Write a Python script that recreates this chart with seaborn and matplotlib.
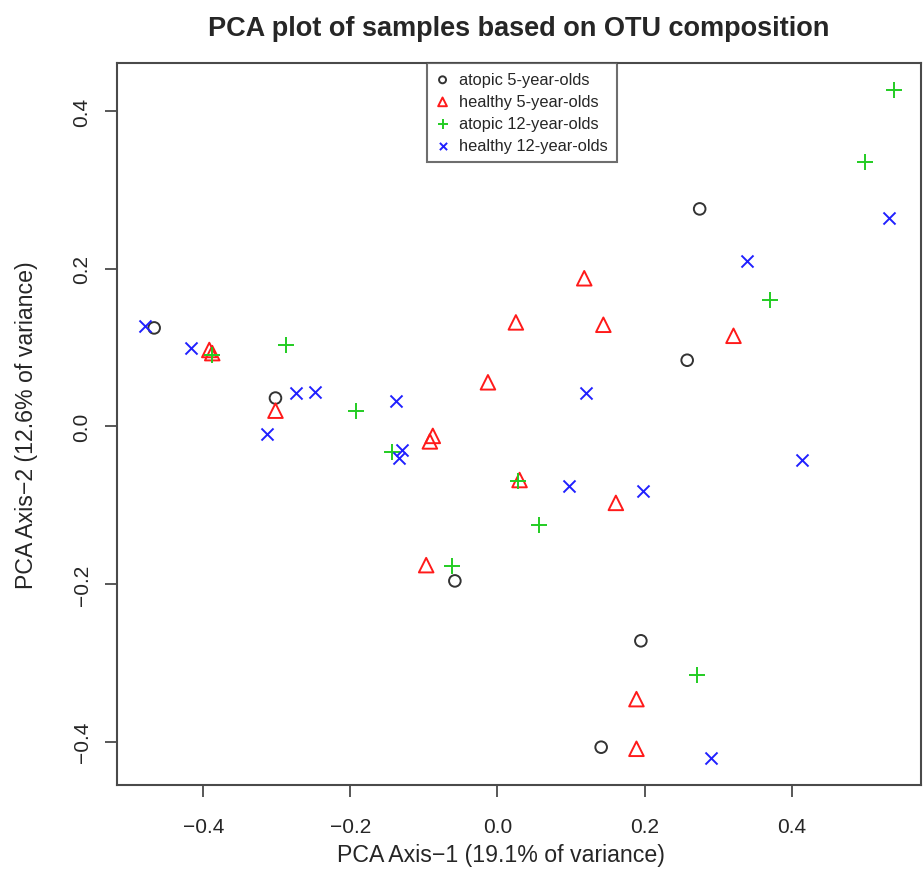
import matplotlib
matplotlib.use("Agg")
import matplotlib.pyplot as plt
import seaborn as sns
import pandas as pd

# values
atopic5_x = [-0.467, -0.302, -0.058, 0.275, 0.258, 0.195, 0.141]
atopic5_y = [0.125, 0.036, -0.196, 0.276, 0.084, -0.272, -0.407]

healthy5_x = [-0.392, -0.388, -0.302, -0.013, 0.025, -0.088, -0.092, -0.097,
              0.030, 0.118, 0.144, 0.321, 0.161, 0.189, 0.189]
healthy5_y = [0.097, 0.093, 0.020, 0.056, 0.132, -0.012, -0.019, -0.176,
              -0.068, 0.188, 0.129, 0.115, -0.097, -0.346, -0.409]

atopic12_x = [-0.388, -0.287, -0.193, -0.144, -0.062, 0.028, 0.056, 0.272,
              0.370, 0.500, 0.539]
atopic12_y = [0.090, 0.103, 0.020, -0.032, -0.177, -0.069, -0.125, -0.316,
              0.161, 0.336, 0.427]

healthy12_x = [-0.479, -0.417, -0.314, -0.274, -0.248, -0.138, -0.130, -0.134,
               0.097, 0.198, 0.120, 0.340, 0.414, 0.532, 0.290]
healthy12_y = [0.127, 0.100, -0.010, 0.043, 0.044, 0.032, -0.030, -0.040,
               -0.075, -0.082, 0.043, 0.210, -0.042, 0.264, -0.421]

groups = ["atopic 5-year-olds", "healthy 5-year-olds",
          "atopic 12-year-olds", "healthy 12-year-olds"]

sns.set_style("white")
plt.rcParams["font.family"] = ["Liberation Sans", "DejaVu Sans"]

fig = plt.figure(figsize=(9.23, 8.78), dpi=100)
ax = fig.add_axes([0.1264, 0.1051, 0.8714, 0.8219])

# marker, colour, size, outline only?
looks = [
    ("o", "#333333", 70, True),
    ("^", "#ff1a1a", 110, True),
    ("+", "#22cc22", 140, False),
    ("x", "#2020ff", 75, False),
]
xs = [atopic5_x, healthy5_x, atopic12_x, healthy12_x]
ys = [atopic5_y, healthy5_y, atopic12_y, healthy12_y]

for name, gx, gy, (m, c, s, outline) in zip(groups, xs, ys, looks):
    df = pd.DataFrame({"x": gx, "y": gy})
    if outline:
        sns.scatterplot(data=df, x="x", y="y", marker=m, s=s, ax=ax,
                        facecolor="none", edgecolor=c, linewidth=1.4,
                        label=name)
    else:
        sns.scatterplot(data=df, x="x", y="y", marker=m, s=s, ax=ax,
                        color=c, linewidth=1.4, label=name)

ax.set_xlim(-0.518, 0.576)
ax.set_ylim(-0.4546, 0.461)
ax.set_xticks([-0.4, -0.2, 0.0, 0.2, 0.4])
ax.set_yticks([-0.4, -0.2, 0.0, 0.2, 0.4])

for sp in ax.spines.values():
    sp.set_visible(True)
    sp.set_color("#4a4a4a")
    sp.set_linewidth(1.5)

ax.tick_params(axis="both", direction="out", length=8.6, width=1.3,
               color="#4a4a4a", labelsize=15)
ax.tick_params(axis="x", pad=14.5, bottom=True)
ax.tick_params(axis="y", pad=9.5, left=True)
for lab in ax.get_yticklabels():
    lab.set_rotation(90)
    lab.set_va("center")

ax.set_title("PCA plot of samples based on OTU composition",
             fontsize=19.5, fontweight="bold", pad=20)
ax.set_xlabel("PCA Axis\u22121 (19.1% of variance)", fontsize=16.7)
ax.set_ylabel("PCA Axis\u22122 (12.6% of variance)", fontsize=16.7)
ax.xaxis.set_label_coords(0.478, -0.081)
ax.yaxis.set_label_coords(-0.098, 0.5)

leg = ax.legend(loc="upper left", bbox_to_anchor=(0.3858, 1.0),
                borderaxespad=0, fontsize=11.8, markerscale=0.6,
                handlelength=0.8, handletextpad=0.6, labelspacing=0.43,
                borderpad=0.55, frameon=True, fancybox=False)
leg.get_frame().set_edgecolor("#4a4a4a")
leg.get_frame().set_linewidth(1.5)

fig.savefig("out.png", dpi=100)
